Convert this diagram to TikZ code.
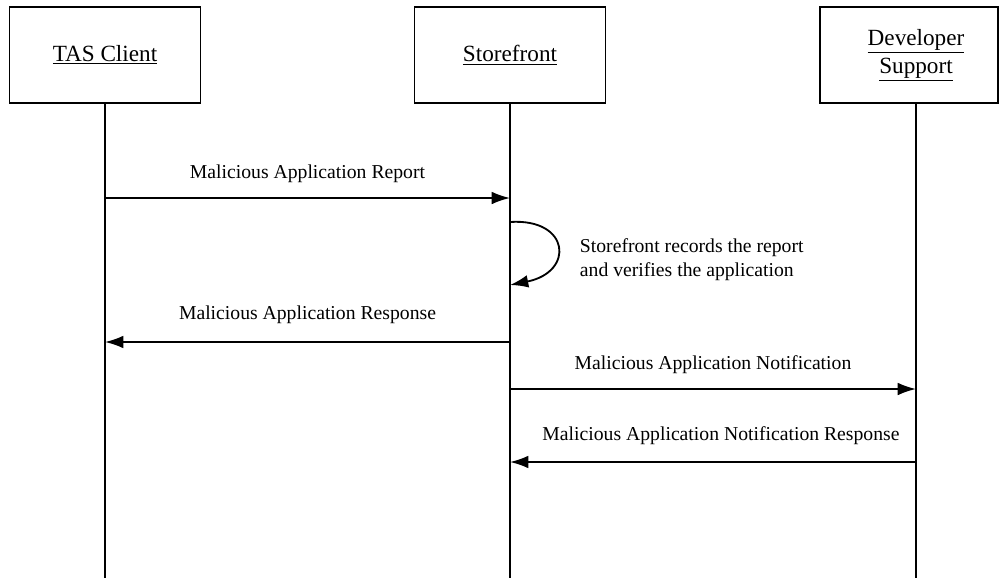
\documentclass[tikz,border=0pt]{standalone}
\usepackage{fontspec}
\setmainfont{Liberation Serif}
\usetikzlibrary{arrows.meta,positioning}

\begin{document}
\begin{tikzpicture}[x=0.025cm, y=-0.025cm,
    actor/.style={draw, line width=1.3pt, minimum width=4.775cm, minimum height=2.4cm,
      align=center, font=\fontsize{16.5}{20}\selectfont},
    actortext/.style={align=center, font=\fontsize{16.5}{20}\selectfont},
    lifeline/.style={line width=1.3pt},
    msg/.style={line width=1.3pt, -{Latex[length=13pt,width=9pt]}},
    msglabel/.style={font=\fontsize{14}{17}\selectfont}]
    \useasboundingbox (0,0) rectangle (999,578);

    % Actors
    \node[actor] (tas) at (105,55) {\underline{TAS Client}};
    \node[actor] (store) at (510,55) {\underline{Storefront}};
    \node[actor, minimum width=4.45cm] (dev) at (909,55) {};
    \node[actortext] (devtext) at (916,55) {\underline{Developer}\\\underline{Support}};

    % Lifelines
    \coordinate (tasend) at (tas.south |- 0,578);
    \coordinate (storeend) at (store.south |- 0,578);
    \coordinate (devtop) at (devtext |- dev.south);
    \coordinate (devend) at (devtext |- 0,578);
    \draw[lifeline] (tas.south) -- (tasend);
    \draw[lifeline] (store.south) -- (storeend);
    \draw[lifeline] (devtop) -- (devend);

    % Messages
    \coordinate (t1) at (tas.south |- 0,198);
    \coordinate (s1) at (store.south |- 0,198);
    \draw[msg] (t1) -- node[msglabel, midway, above=7pt] {Malicious Application Report} (s1);

    \coordinate (s2a) at (store.south |- 0,222);
    \coordinate (s2b) at (store.south |- 0,285);
    \draw[msg] (s2a) .. controls (570,218) and (575,272) .. (s2b);
    \node[msglabel, anchor=west, align=left] (note) at (575,260)
      {Storefront records the report\\and verifies the application};

    \coordinate (s3) at (store.south |- 0,342);
    \coordinate (t3) at (tas.south |- 0,342);
    \draw[msg] (s3) -- node[msglabel, midway, above=9pt] {Malicious Application Response} (t3);

    \coordinate (s4) at (store.south |- 0,389);
    \coordinate (d4) at (devtext |- 0,389);
    \draw[msg] (s4) -- node[msglabel, midway, above=7pt] {Malicious Application Notification} (d4);

    \coordinate (d5) at (devtext |- 0,462);
    \coordinate (s5) at (store.south |- 0,462);
    \draw[msg] (d5) -- node[msglabel, midway, above=8pt, xshift=0.2cm] {Malicious Application Notification Response} (s5);
\end{tikzpicture}
\end{document}
